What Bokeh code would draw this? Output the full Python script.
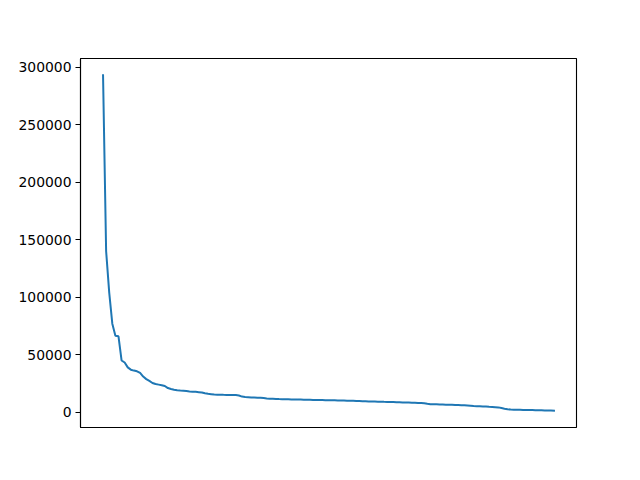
from bokeh.plotting import figure
from bokeh.models import Range1d, FixedTicker
from bokeh.embed import file_html
from bokeh.resources import INLINE

values = [
    293000, 140000, 104000, 77000, 66500, 66000, 45000, 43200, 39000, 37000,
    36200, 35600, 34200, 31000, 28800, 27200, 25400, 24500, 24000, 23500,
    22800, 21000, 20200, 19600, 19100, 18800, 18600, 18400, 18100, 17900,
    17700, 17400, 17100, 16500, 16000, 15700, 15400, 15300, 15200, 15100,
    15050, 15000, 14950, 14900, 14500, 13600, 13300, 13100, 12900, 12750,
    12600, 12500, 12300, 12000, 11800, 11700, 11600, 11450, 11350, 11250,
    11200, 11150, 11100, 11050, 11000, 10900, 10800, 10750, 10700, 10650,
    10600, 10550, 10500, 10450, 10400, 10350, 10300, 10200, 10100, 10000,
    9950, 9900, 9800, 9700, 9600, 9500, 9400, 9300, 9250, 9200,
    9100, 9000, 8950, 8900, 8800, 8700, 8600, 8500, 8450, 8400,
    8300, 8200, 8100, 8000, 7800, 7300, 7000, 6900, 6850, 6800,
    6700, 6600, 6500, 6400, 6300, 6200, 6100, 6000, 5800, 5600,
    5400, 5300, 5200, 5000, 4900, 4700, 4600, 4400, 4200, 3600,
    3000, 2500, 2300, 2200, 2100, 2050, 2000, 1950, 1900, 1850,
    1800, 1700, 1650, 1600, 1500, 1400, 1300,
]
index = list(range(len(values)))
y_ticks = [0, 50000, 100000, 150000, 200000, 250000, 300000]

n = len(values)
xpad = (n - 1) * 0.05
ymin, ymax = min(values), max(values)
ypad = (ymax - ymin) * 0.05

p = figure(width=632, height=472, output_backend="svg", toolbar_location=None,
           x_range=Range1d(-xpad, n - 1 + xpad),
           y_range=Range1d(ymin - ypad, ymax + ypad),
           min_border_left=80, min_border_right=56, min_border_top=58, min_border_bottom=45)

p.line(index, values, line_color="#1f77b4", line_width=2, line_cap="square")

p.xaxis.visible = False
p.xgrid.visible = False
p.ygrid.visible = False
p.outline_line_color = "black"
p.outline_line_width = 1.1

ya = p.yaxis[0]
ya.ticker = FixedTicker(ticks=y_ticks)
ya.formatter.use_scientific = False
ya.minor_tick_line_color = None
ya.major_tick_out = 5
ya.major_tick_in = 0
ya.major_tick_line_width = 1.1
ya.axis_line_width = 1.1
ya.major_label_standoff = 4
ya.major_label_text_font = "DejaVu Sans"
ya.major_label_text_font_size = "13.9px"
ya.major_label_text_color = "black"

p.background_fill_color = "white"
p.border_fill_color = "white"

open("out.html", "w").write(file_html(p, INLINE))
